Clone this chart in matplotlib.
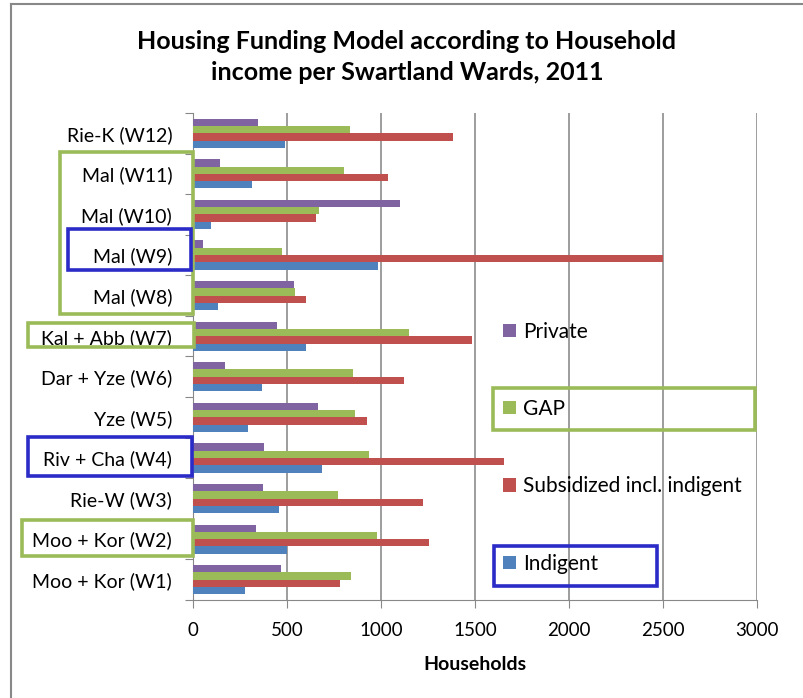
import numpy as np
import matplotlib
matplotlib.use("Agg")
import matplotlib.pyplot as plt
from matplotlib.patches import Rectangle, Patch
from matplotlib.lines import Line2D

plt.rcParams["font.family"] = ["Lato", "DejaVu Sans"]

wards = ["Moo + Kor (W1)", "Moo + Kor (W2)", "Rie-W (W3)", "Riv + Cha (W4)",
         "Yze (W5)", "Dar + Yze (W6)", "Kal + Abb (W7)", "Mal (W8)",
         "Mal (W9)", "Mal (W10)", "Mal (W11)", "Rie-K (W12)"]

private = [470, 337, 371, 378, 665, 169, 447, 539, 53, 1099, 146, 348]
gap = [841, 979, 771, 938, 864, 851, 1147, 545, 475, 670, 805, 835]
subsidized = [782, 1255, 1222, 1653, 928, 1124, 1482, 603, 2500, 654, 1037, 1383]
indigent = [279, 502, 457, 685, 291, 365, 603, 133, 984, 98, 312, 488]

series = ["Private", "GAP", "Subsidized incl. indigent", "Indigent"]
colors = ["#8064A2", "#9BBB59", "#C0504D", "#4F81BD"]

W, H = 804, 698
fig = plt.figure(figsize=(W / 100, H / 100), dpi=100)
ax = fig.add_axes([193 / W, 1 - 600 / H, (757 - 193) / W, (600 - 113) / H])

y = np.arange(len(wards))
h = 0.18
offsets = [1.5 * h, 0.5 * h, -0.5 * h, -1.5 * h]
for vals, off, c in zip([private, gap, subsidized, indigent], offsets, colors):
    ax.barh(y + off, vals, height=h, color=c, zorder=3)

ax.set_xlim(0, 3000)
ax.set_ylim(-0.5, len(wards) - 0.5)
ax.set_xticks(np.arange(0, 3001, 500))
ax.set_yticks(np.arange(-0.5, len(wards), 1))
ax.set_yticklabels([])
ax.set_yticks(y, minor=True)
ax.set_yticklabels(wards, minor=True, fontsize=14)
ax.tick_params(axis="y", which="minor", length=0, pad=15)
ax.tick_params(axis="y", which="major", length=6, color="#888888")
ax.tick_params(axis="x", length=6, color="#888888", labelsize=13.5, pad=10)
ax.xaxis.grid(True, color="#8c8c8c", lw=1.2, zorder=0)
for s in ["top", "right"]:
    ax.spines[s].set_visible(False)
for s in ["left", "bottom"]:
    ax.spines[s].set_color("#888888")
ax.set_xlabel("Households", fontsize=14, fontweight="bold", labelpad=12)

fig.text(407 / W, 1 - 57 / H, "Housing Funding Model according to Household\nincome per Swartland Wards, 2011",
         ha="center", va="center", fontsize=18, fontweight="bold", linespacing=1.4)

handles = [Patch(facecolor=c, edgecolor="none") for c in colors]
leg = fig.legend(handles, series, loc="upper left", bbox_to_anchor=(484 / W, 1 - 303 / H),
                 frameon=False, fontsize=15, labelspacing=2.75, handlelength=0.62,
                 handleheight=0.62, handletextpad=0.35)

# outer chart frame
fig.add_artist(Line2D([11 / W, 11 / W], [0, 1 - 4 / H], color="#888888", lw=1.5))
fig.add_artist(Line2D([11 / W, 1], [1 - 4 / H, 1 - 4 / H], color="#888888", lw=1.5))

# highlight boxes (pixel coords: x0, y0, x1, y1)
boxes = [
    (60, 152, 193, 314, "#9BBB59"),
    (68, 229, 191, 270, "#2B2BC8"),
    (28, 323, 194, 347, "#9BBB59"),
    (28, 437, 192, 476, "#2B2BC8"),
    (22, 520, 193, 556, "#9BBB59"),
    (493, 388, 755, 430, "#9BBB59"),
    (494, 546, 657, 586, "#2B2BC8"),
]
for x0, y0, x1, y1, c in boxes:
    fig.add_artist(Rectangle((x0 / W, 1 - y1 / H), (x1 - x0) / W, (y1 - y0) / H,
                             transform=fig.transFigure, fill=False, edgecolor=c,
                             lw=2.6, zorder=10))

fig.savefig("out.png", dpi=100)
